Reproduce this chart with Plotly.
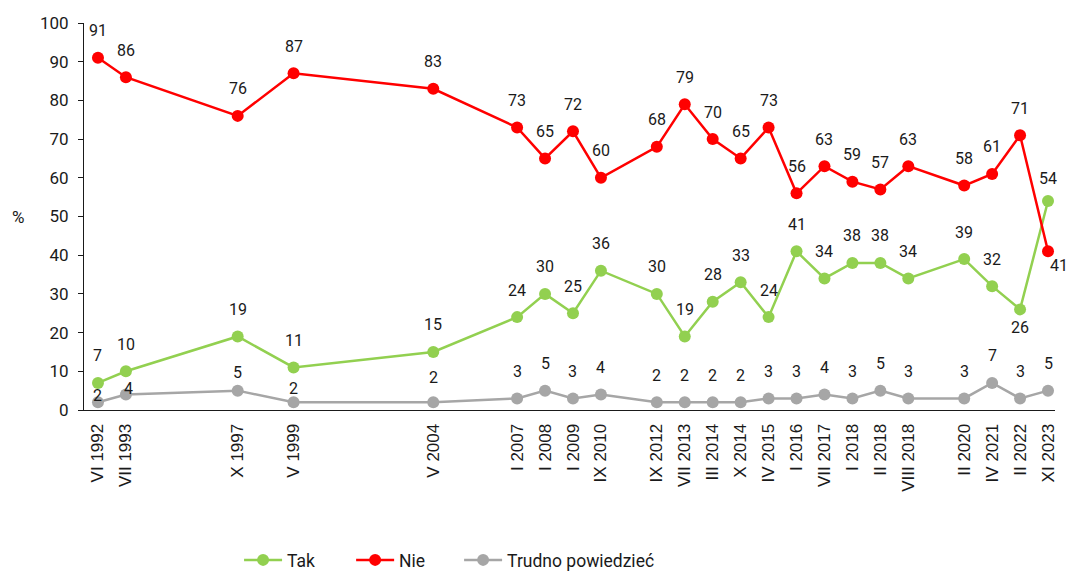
import plotly.graph_objects as go

# ---- data ----
waves = ["VI 1992", "VII 1993", "X 1997", "V 1999", "V 2004", "I 2007", "I 2008",
         "I 2009", "IX 2010", "IX 2012", "VII 2013", "III 2014", "X 2014", "IV 2015",
         "I 2016", "VII 2017", "I 2018", "II 2018", "VIII 2018", "II 2020",
         "IV 2021", "II 2022", "XI 2023"]
# slot index on the axis (the chart leaves empty slots between distant surveys)
slot = [0, 1, 5, 7, 12, 15, 16, 17, 18, 20, 21, 22, 23, 24, 25, 26, 27, 28, 29,
        31, 32, 33, 34]
tak = [7, 10, 19, 11, 15, 24, 30, 25, 36, 30, 19, 28, 33, 24, 41, 34, 38, 38, 34,
       39, 32, 26, 54]
nie = [91, 86, 76, 87, 83, 73, 65, 72, 60, 68, 79, 70, 65, 73, 56, 63, 59, 57, 63,
       58, 61, 71, 41]
trudno = [2, 4, 5, 2, 2, 3, 5, 3, 4, 2, 2, 2, 2, 3, 3, 4, 3, 5, 3, 3, 7, 3, 5]

series = [
    ("Tak", tak, "#92D050", "legend", 0.1597),
    ("Nie", nie, "#FF0000", "legend2", 0.2751),
    ("Trudno powiedzieć", trudno, "#A6A6A6", "legend3", 0.3863),
]

# label offsets (px) that differ from the default "above" placement
label_shift = {
    ("Tak", 21): (0, -18),
    ("Tak", 22): (0, 23),
    ("Nie", 22): (11, -14),
    ("Trudno powiedzieć", 0): (0, 7),
    ("Trudno powiedzieć", 1): (3, 6),
    ("Trudno powiedzieć", 2): (0, 18),
    ("Trudno powiedzieć", 3): (0, 14),
    ("Trudno powiedzieć", 4): (0, 25),
}

TXT = "#1a1a1a"
LABEL_FONT = dict(family="Roboto, Arial, sans-serif", size=16, color=TXT)
LEGEND_FONT = dict(family="Roboto, Arial, sans-serif", size=17.5, color=TXT)

fig = go.Figure()
annotations = []
legends = {}
for name, vals, color, leg, legx in series:
    fig.add_trace(go.Scatter(
        x=slot, y=vals, name=name, mode="lines+markers",
        line=dict(color=color, width=2.5),
        marker=dict(color=color, size=12),
        hoverinfo="skip", legend=leg,
    ))
    legends[leg] = dict(
        orientation="h", x=legx, xanchor="left", y=-0.3876, yanchor="middle",
        font=LEGEND_FONT, bgcolor="rgba(0,0,0,0)", itemwidth=38,
    )
    for i, (xv, yv) in enumerate(zip(slot, vals)):
        dx, dy = label_shift.get((name, i), (0, 27))
        annotations.append(dict(
            x=xv, y=yv, xref="x", yref="y", text=str(yv), showarrow=False,
            xshift=dx, yshift=dy, font=LABEL_FONT,
        ))

annotations.append(dict(
    x=-0.068, y=50, xref="paper", yref="y", text="%", showarrow=False,
    xanchor="center", font=dict(family="Roboto, Arial, sans-serif", size=17, color=TXT),
))

fig.update_layout(
    width=1069, height=572,
    margin=dict(l=84, r=14, t=23, b=162, autoexpand=False),
    paper_bgcolor="white", plot_bgcolor="white",
    annotations=annotations,
    showlegend=True,
    **legends,
    xaxis=dict(
        range=[-0.5, 34.25],
        tickmode="array", tickvals=slot, ticktext=waves, tickangle=-90,
        showgrid=False, zeroline=False, showline=True, linecolor=TXT,
        linewidth=1, ticks="", ticklabelstandoff=6,
        tickfont=dict(family="Liberation Sans, Arial, sans-serif", size=17, color=TXT),
    ),
    yaxis=dict(
        range=[0, 100], dtick=10, tick0=0,
        showgrid=False, zeroline=False, showline=True, linecolor=TXT,
        linewidth=1, ticks="outside", ticklen=5, tickcolor=TXT,
        ticklabelstandoff=6,
        tickfont=dict(family="Roboto, Arial, sans-serif", size=17, color=TXT),
    ),
)

fig.write_html(
    "out.html",
    config={"displayModeBar": False},
    post_script="document.body.style.margin='0';document.body.style.overflow='hidden';",
)
